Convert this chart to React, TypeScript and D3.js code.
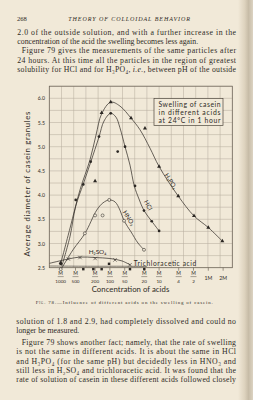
import React from "react";
import * as d3 from "d3";

// bottom axis: molar concentrations and their printed labels
const concTicks = [1 / 1000, 1 / 500, 1 / 200, 1 / 100, 1 / 50, 1 / 20, 1 / 10, 1 / 4, 1 / 2, 1, 2];
const concDenoms = ["1000", "500", "200", "100", "50", "20", "10", "4", "2", "1M", "2M"];
const diamTicks = [2.5, 3.0, 3.5, 4.0, 4.5, 5.0, 5.5, 6.0];

// [concentration (mol/l), average diameter]
const h3po4Points = [[0.001, 2.6], [0.005, 4.29], [0.0068, 5.7], [0.0104, 5.92], [0.0269, 5.59], [0.0516, 5.38], [0.1, 4.59], [0.245, 3.98], [0.512, 3.57], [1, 3.33], [1.93, 3.05]];
const h3po4Curve = [[0.00101, 2.6], [0.00155, 3.32], [0.00247, 4.11], [0.00394, 4.73], [0.00522, 5.24], [0.0068, 5.68], [0.0104, 5.92], [0.016, 5.84], [0.0269, 5.59], [0.0409, 5.35], [0.0653, 4.97], [0.1, 4.59], [0.245, 3.98], [0.512, 3.57], [1, 3.33], [1.93, 3.05]];

const hclPoints = [[0.00202, 3.9], [0.00288, 4.22], [0.00407, 4.69], [0.006, 5.21], [0.0104, 5.69], [0.0144, 4.9], [0.0203, 5.0], [0.0324, 4.19], [0.0493, 3.68], [0.0708, 3.46], [0.1, 3.26]];
const hclCurve = [[0.00106, 2.54], [0.00155, 3.15], [0.00202, 3.77], [0.00288, 4.23], [0.00407, 4.68], [0.006, 5.2], [0.00759, 5.53], [0.0104, 5.69], [0.0133, 5.61], [0.016, 5.39], [0.0203, 5.0], [0.0256, 4.62], [0.0313, 4.19], [0.039, 3.92], [0.0493, 3.68], [0.0708, 3.46], [0.1, 3.26]];

const hno3Points = [[0.001, 2.47], [0.0031, 3.21], [0.005, 3.58], [0.0071, 3.58], [0.0097, 3.9], [0.0194, 3.47], [0.0493, 2.87]];
const hno3Curve = [[0.00105, 2.49], [0.00178, 2.87], [0.00312, 3.21], [0.0054, 3.69], [0.00724, 3.84], [0.0097, 3.9], [0.0127, 3.86], [0.016, 3.69], [0.0194, 3.47], [0.0269, 3.24], [0.0372, 3.01], [0.0493, 2.87]];

const h2so4Points = [[0.00143, 2.68], [0.00247, 2.71], [0.005, 2.69], [0.0127, 2.66], [0.0256, 2.56]];
const h2so4Curve = [[0.00059, 2.59], [0.00143, 2.68], [0.00247, 2.72], [0.005, 2.71], [0.01, 2.69], [0.0176, 2.64], [0.0256, 2.56]];

const trichlorPoints = [[0.001, 2.58], [0.00288, 2.47], [0.0046, 2.47], [0.0068, 2.47], [0.0096, 2.58], [0.0256, 2.47], [0.05, 2.47]];
const trichlorCurve = [[0.00059, 2.535], [0.004, 2.53], [0.02, 2.53], [0.056, 2.525]];

const legendLines = ["Swelling of casein", "in different acids", "at 24°C in 1 hour"];

const topText = [
  "2.0 of the outside solution, and with a further increase in the",
  "concentration of the acid the swelling becomes less again.",
  "Figure 79 gives the measurements of the same particles after",
  "24 hours.  At this time all the particles in the region of greatest",
  "solubility for HCl and for H₃PO₄, i.e., between pH of the outside",
];
const bottomText = [
  "solution of 1.8 and 2.9, had completely dissolved and could no",
  "longer be measured.",
  "Figure 79 shows another fact; namely, that the rate of swelling",
  "is not the same in different acids.  It is about the same in HCl",
  "and H₃PO₄ (for the same pH) but decidedly less in HNO₃ and",
  "still less in H₂SO₄ and trichloracetic acid.  It was found that the",
  "rate of solution of casein in these different acids followed closely",
];

// layout of the page (w = 0: last line of a paragraph, set ragged)
const PAGE = "#f1e9d8";
const INK = "#2f2b26";
const FRAME = { left: 49.3, right: 232.3, top: 86.2, bottom: 267.7 };
const topLayout = [
  { x: 17.3, w: 218.7, y: 35 },
  { x: 17.3, w: 0, y: 44.2 },
  { x: 21.7, w: 214.3, y: 53.4 },
  { x: 17.3, w: 218.7, y: 62.6 },
  { x: 17.3, w: 218.7, y: 71.8 },
];
const bottomLayout = [
  { x: 16.3, w: 219.7, y: 323.5 },
  { x: 16.3, w: 0, y: 332.7 },
  { x: 21.7, w: 214.3, y: 345.1 },
  { x: 16.3, w: 219.7, y: 354.4 },
  { x: 16.3, w: 219.7, y: 363.8 },
  { x: 16.3, w: 219.7, y: 373.1 },
  { x: 16.3, w: 219.7, y: 382.4 },
];

const serif = "'Liberation Serif', 'DejaVu Serif', serif";
const sans = "Lato, 'DejaVu Sans', sans-serif";

function BodyLine({ text, x, y, w }: { text: string; x: number; y: number; w: number }) {
  // italicise "i.e.," where it occurs
  const parts = text.split(/(i\.e\.,)/);
  const fit = w > 0 ? { textLength: w, lengthAdjust: "spacing" } : {};
  return (
    <text x={x} y={y} {...fit} fontFamily={serif} fontSize={7.8} fill={INK}>
      {parts.map((p, i) =>
        p === "i.e.," ? (
          <tspan key={i} fontStyle="italic">{p}</tspan>
        ) : (
          <tspan key={i}>{p}</tspan>
        )
      )}
    </text>
  );
}

export default function App() {
  const x = d3.scaleLog().domain([0.001, 1]).range([60.7, 208.3]);
  const y = d3.scaleLinear().domain([2.5, 6.25]).range([FRAME.bottom, FRAME.top]);

  const line = d3
    .line<number[]>()
    .x((d) => x(d[0]))
    .y((d) => y(d[1]))
    .curve(d3.curveCatmullRom.alpha(0.5));

  const tri = d3.symbol(d3.symbolTriangle, 7)()!;
  const sq = d3.symbol(d3.symbolSquare, 6)()!;
  const times = d3.symbol(d3.symbolTimes, 9)()!;

  const vGrid = d3.range(16).map((i) => FRAME.left + (i * (FRAME.right - FRAME.left)) / 15);
  const hGrid = d3.range(16).map((i) => y(2.5 + i * 0.25));

  const curveStyle = { fill: "none", stroke: "#38332d", strokeWidth: 0.75 };

  return (
    <svg width={253} height={400} style={{ position: "absolute", left: 0, top: 0 }}>
      <defs>
        <linearGradient id="gutter" x1="0" x2="1" y1="0" y2="0">
          <stop offset="0" stopColor={PAGE} />
          <stop offset="0.45" stopColor="#ddd2bd" />
          <stop offset="0.7" stopColor="#c7bca7" />
          <stop offset="1" stopColor="#dcd3c2" />
        </linearGradient>
        <clipPath id="plotClip">
          <rect x={FRAME.left} y={FRAME.top - 2} width={FRAME.right - FRAME.left} height={FRAME.bottom - FRAME.top + 6} />
        </clipPath>
      </defs>
      <rect width={253} height={400} fill={PAGE} />
      <rect x={238} width={15} height={400} fill="url(#gutter)" />

      {/* running head */}
      <text x={17} y={21} fontFamily={serif} fontSize={6.6} fill={INK}>268</text>
      <text x={68.3} y={21} textLength={121.7} lengthAdjust="spacing" fontFamily={serif} fontStyle="italic" fontSize={6} fill={INK}>
        THEORY OF COLLOIDAL BEHAVIOR
      </text>

      {topText.map((t, i) => (
        <BodyLine key={i} text={t} {...topLayout[i]} />
      ))}

      {/* graph paper */}
      <g stroke="#b8af9f" strokeWidth={0.55}>
        {vGrid.map((gx, i) => (
          <line key={"v" + i} x1={gx} x2={gx} y1={FRAME.top} y2={FRAME.bottom} />
        ))}
        {hGrid.map((gy, i) => (
          <line key={"h" + i} x1={FRAME.left} x2={FRAME.right} y1={gy} y2={gy} />
        ))}
      </g>
      <rect x={FRAME.left} y={FRAME.top} width={FRAME.right - FRAME.left} height={FRAME.bottom - FRAME.top} fill="none" stroke="#6a6255" strokeWidth={0.7} />

      {/* y axis */}
      {diamTicks.map((t) => (
        <text key={t} x={45} y={y(t)} textAnchor="end" dominantBaseline="central" fontFamily={sans} fontSize={5.2} fill={INK}>
          {t.toFixed(1)}
        </text>
      ))}
      <text
        transform={`translate(26.7,184) rotate(-90)`}
        textAnchor="middle"
        dominantBaseline="central"
        textLength={145}
        lengthAdjust="spacing"
        fontFamily={sans}
        fontSize={7.8}
        fill={INK}
      >
        Average diameter of casein granules
      </text>

      {/* x axis */}
      {concTicks.map((c, i) => {
        const tx = x(c);
        const d = concDenoms[i];
        const whole = d.endsWith("M");
        return (
          <g key={d} fontFamily={sans} fill={INK} textAnchor="middle">
            <line x1={tx} x2={tx} y1={FRAME.bottom} y2={FRAME.bottom + 3} stroke="#5a5347" strokeWidth={0.6} />
            {whole ? (
              <text x={tx} y={279.6} fontSize={5.2}>{d}</text>
            ) : (
              <>
                <text x={tx} y={275.3} fontSize={5}>M</text>
                <line x1={tx - 3} x2={tx + 3} y1={276.6} y2={276.6} stroke={INK} strokeWidth={0.4} />
                <text x={tx} y={282.6} fontSize={4.6}>{d}</text>
              </>
            )}
          </g>
        );
      })}
      <text x={130.5} y={292} textAnchor="middle" textLength={77.6} lengthAdjust="spacing" fontFamily={sans} fontSize={7.8} fill={INK}>
        Concentration of acids
      </text>
      <text x={35.7} y={304.3} textLength={177} lengthAdjust="spacing" fontFamily={serif} fontSize={4.9} fill={INK}>
        <tspan fontVariant="small-caps">Fig.</tspan> 78.—Influence of different acids on the swelling of casein.
      </text>

      {/* curves */}
      <g clipPath="url(#plotClip)">
        <path d={line(h3po4Curve)!} {...curveStyle} />
        <path d={line(hclCurve)!} {...curveStyle} />
        <path d={line(hno3Curve)!} {...curveStyle} />
        <path d={line(h2so4Curve)!} {...curveStyle} />
        <path d={line(trichlorCurve)!} {...curveStyle} strokeWidth={0.6} />
      </g>

      {/* markers */}
      {h3po4Points.map((p, i) => (
        <path key={"a" + i} d={tri} transform={`translate(${x(p[0])},${y(p[1])})`} fill="#2b2723" />
      ))}
      {hclPoints.map((p, i) => (
        <circle key={"b" + i} cx={x(p[0])} cy={y(p[1])} r={1.35} fill="#2b2723" />
      ))}
      {hno3Points.map((p, i) => (
        <circle key={"c" + i} cx={x(p[0])} cy={y(p[1])} r={1.5} fill={PAGE} stroke="#2b2723" strokeWidth={0.55} />
      ))}
      {h2so4Points.map((p, i) => (
        <path key={"d" + i} d={times} transform={`translate(${x(p[0])},${y(p[1])})`} fill="none" stroke="#2b2723" strokeWidth={0.6} />
      ))}
      {trichlorPoints.map((p, i) => (
        <path key={"e" + i} d={sq} transform={`translate(${x(p[0])},${y(p[1])})`} fill="#2b2723" />
      ))}

      {/* curve labels */}
      <g fontFamily={sans} fill={INK} textAnchor="middle" dominantBaseline="central">
        <text transform="translate(171,181) rotate(57)" fontSize={6.2}>H₃PO₄</text>
        <text transform="translate(148.5,205) rotate(62)" fontSize={6.2}>HCl</text>
        <text transform="translate(129,218) rotate(58)" fontSize={6.2}>HNO₃</text>
        <text x={97.5} y={251.7} fontSize={6.4}>H₂SO₄</text>
        <text x={165} y={262.8} textLength={62.5} lengthAdjust="spacing" fontSize={6.6}>Trichloracetic acid</text>
      </g>

      {/* legend box */}
      <rect x={154} y={98.5} width={69} height={27} fill={PAGE} stroke="#4d463c" strokeWidth={0.7} />
      {legendLines.map((t, i) => (
        <text key={t} x={189.5} y={104.3 + i * 7.7} textAnchor="middle" dominantBaseline="central" textLength={62} lengthAdjust="spacing" fontFamily={sans} fontSize={6.8} fill={INK}>
          {t}
        </text>
      ))}

      {bottomText.map((t, i) => (
        <BodyLine key={"bt" + i} text={t} {...bottomLayout[i]} />
      ))}
    </svg>
  );
}
